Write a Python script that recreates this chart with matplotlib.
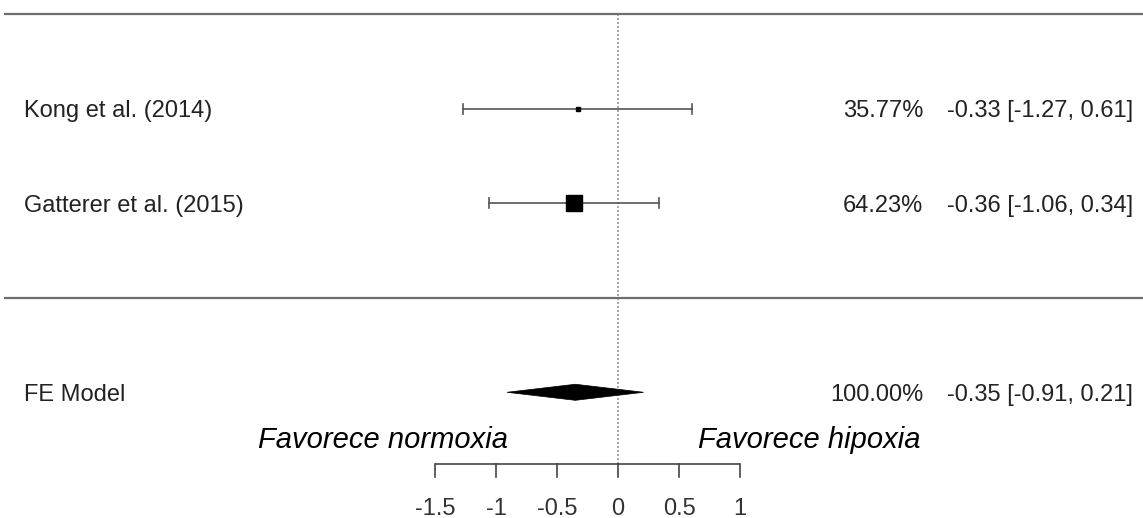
import matplotlib
matplotlib.use("Agg")
import matplotlib.pyplot as plt
from matplotlib.patches import Polygon

# Study-level results (standardised mean differences)
studies = ["Kong et al. (2014)", "Gatterer et al. (2015)"]
estimates = [-0.33, -0.36]
ci_lower = [-1.27, -1.06]
ci_upper = [0.61, 0.34]
weights = [35.77, 64.23]

# Pooled fixed-effect estimate
model_label = "FE Model"
pooled_est = -0.35
pooled_lo = -0.91
pooled_hi = 0.21
pooled_weight = 100.00

# Axis ticks
xticks = [-1.5, -1, -0.5, 0, 0.5, 1]
xtick_labels = ["-1.5", "-1", "-0.5", "0", "0.5", "1"]

left_note = "Favorece normoxia"
right_note = "Favorece hipoxia"

plt.rcParams["font.family"] = ["Liberation Sans", "DejaVu Sans"]

fig = plt.figure(figsize=(11.43, 5.18), dpi=100)
ax = fig.add_axes([0, 0, 1, 1])
ax.set_xlim(-618 / 122, (1143 - 618) / 122)
ax.set_ylim(-2.33, 3.15)
ax.axis("off")

txt_col = "#222222"
line_col = "#6e6e6e"
fs = 17

k = len(studies)
rows = list(range(k, 0, -1))
x_left = ax.get_xlim()[0]
x_right = ax.get_xlim()[1]

# Horizontal rules (top and above the summary)
ax.plot([x_left + 0.03, x_right], [k + 1, k + 1], color=line_col, lw=1.6,
        solid_capstyle="butt")
ax.plot([x_left + 0.03, x_right], [0, 0], color=line_col, lw=1.6,
        solid_capstyle="butt")

# Reference line at zero
axis_y = -1.76
ax.plot([0, 0], [axis_y, k + 1], color="#9a9a9a", lw=1.2, ls=(0, (1.2, 1.2)),
        zorder=1)

# Confidence intervals and point estimates
max_w = max(weights)
for r, est, lo, hi, w in zip(rows, estimates, ci_lower, ci_upper, weights):
    ax.plot([lo, hi], [r, r], color="#555555", lw=1.2, zorder=2)
    for end in (lo, hi):
        ax.plot([end, end], [r - 0.055, r + 0.055], color="#555555", lw=1.2,
                zorder=2)
    size = 11.5 * (w / max_w) ** 2.3
    ax.plot(est, r, marker="s", ms=size, color="black", mec="black", zorder=3)

# Pooled diamond
dh = 0.085
diamond = Polygon([[pooled_lo, -1], [pooled_est, -1 + dh],
                   [pooled_hi, -1], [pooled_est, -1 - dh]],
                  closed=True, facecolor="black", edgecolor="black", lw=0.5,
                  zorder=3)
ax.add_patch(diamond)

# Row labels and annotations
label_x = x_left + 24 / 122
pct_x = (923 - 618) / 122
val_x = (1133 - 618) / 122

def fmt_ci(e, lo, hi):
    return f"{e:.2f} [{lo:.2f}, {hi:.2f}]"

for r, name, est, lo, hi, w in zip(rows, studies, estimates, ci_lower,
                                    ci_upper, weights):
    ax.text(label_x, r, name, ha="left", va="center_baseline", fontsize=fs,
            color=txt_col)
    ax.text(pct_x, r, f"{w:.2f}%", ha="right", va="center_baseline",
            fontsize=fs, color=txt_col)
    ax.text(val_x, r, fmt_ci(est, lo, hi), ha="right", va="center_baseline",
            fontsize=fs, color=txt_col)

ax.text(label_x, -1, model_label, ha="left", va="center_baseline",
        fontsize=fs, color=txt_col)
ax.text(pct_x, -1, f"{pooled_weight:.2f}%", ha="right",
        va="center_baseline", fontsize=fs, color=txt_col)
ax.text(val_x, -1, fmt_ci(pooled_est, pooled_lo, pooled_hi), ha="right",
        va="center_baseline", fontsize=fs, color=txt_col)

# Direction notes
ax.text((508 - 618) / 122, -1.47, left_note, ha="right",
        va="center_baseline", fontsize=21, style="italic", color="black")
ax.text((698 - 618) / 122, -1.47, right_note, ha="left",
        va="center_baseline", fontsize=21, style="italic", color="black")

# Bottom x axis
ax.plot([xticks[0], xticks[-1]], [axis_y, axis_y], color="#444444", lw=1.2,
        solid_capstyle="butt")
for t, lab in zip(xticks, xtick_labels):
    ax.plot([t, t], [axis_y, axis_y - 0.14], color="#444444", lw=1.2)
    ax.text(t, -2.21, lab, ha="center", va="center_baseline", fontsize=fs,
            color="#333333")

fig.savefig("out.png", dpi=100)
